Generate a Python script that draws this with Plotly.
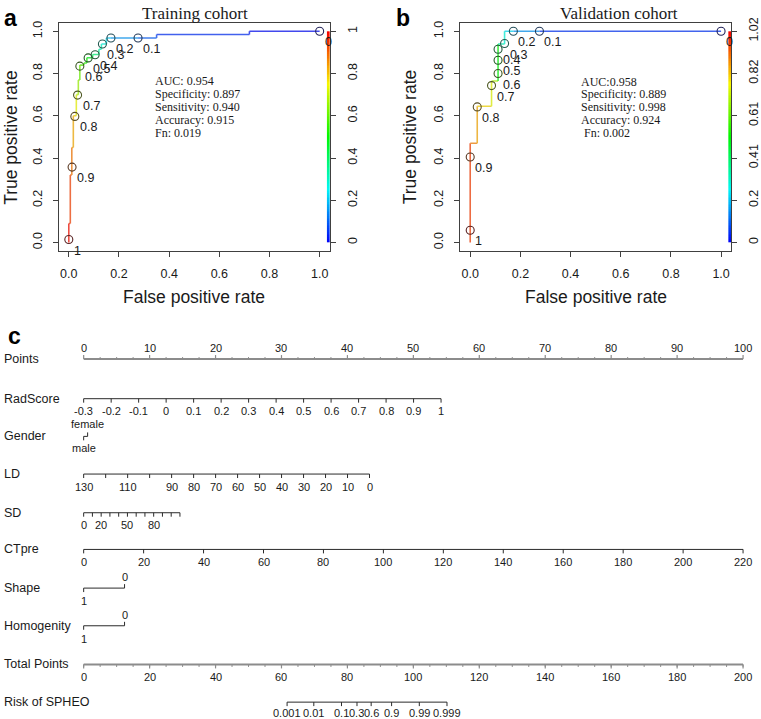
import colorsys
import numpy as np
import plotly.graph_objects as go

W, H = 761, 719

# ---------------- Panel a: training cohort ROC ----------------
train_fpr = [0.000, 0.000, 0.006, 0.006, 0.012, 0.012, 0.018, 0.018, 0.030, 0.030,
             0.038, 0.038, 0.044, 0.044, 0.060, 0.060, 0.072, 0.072, 0.095, 0.095,
             0.120, 0.120, 0.130, 0.130, 0.150, 0.150, 0.168, 0.276, 0.350, 0.350,
             0.720, 0.720, 1.000]
train_tpr = [0.000, 0.090, 0.090, 0.320, 0.320, 0.450, 0.450, 0.600, 0.600, 0.700,
             0.700, 0.770, 0.770, 0.840, 0.840, 0.850, 0.850, 0.875, 0.875, 0.890,
             0.890, 0.915, 0.915, 0.940, 0.940, 0.968, 0.968, 0.968, 0.968, 0.985,
             0.985, 1.000, 1.000]
train_cut = [1.00, 0.97, 0.96, 0.91, 0.90, 0.86, 0.85, 0.80, 0.78, 0.70,
             0.68, 0.64, 0.62, 0.60, 0.57, 0.55, 0.53, 0.50, 0.45, 0.40,
             0.36, 0.33, 0.31, 0.30, 0.25, 0.22, 0.20, 0.10, 0.08, 0.06,
             0.03, 0.02, 0.00]
train_pt_fpr = [0.000, 0.013, 0.024, 0.035, 0.044, 0.077, 0.105, 0.134, 0.168, 0.276, 1.000]
train_pt_tpr = [0.014, 0.357, 0.597, 0.698, 0.835, 0.874, 0.889, 0.940, 0.968, 0.968, 1.000]
train_pt_lab = ["1", "0.9", "0.8", "0.7", "0.6", "0.5", "0.4", "0.3", "0.2", "0.1", "0"]
train_stats = ["AUC: 0.954", "Specificity: 0.897", "Sensitivity: 0.940",
               "Accuracy: 0.915", "Fn: 0.019"]
train_bar_labels = ["0", "0.2", "0.4", "0.6", "0.8", "1"]

# ---------------- Panel b: validation cohort ROC ----------------
valid_fpr = [0.000, 0.000, 0.028, 0.028, 0.085, 0.085, 0.111, 0.111, 0.137, 0.137, 0.172, 0.276, 1.000]
valid_tpr = [0.000, 0.470, 0.470, 0.645, 0.645, 0.765, 0.765, 0.940, 0.940, 1.000, 1.000, 1.000, 1.000]
valid_cut = [1.00, 0.88, 0.86, 0.80, 0.76, 0.70, 0.66, 0.33, 0.31, 0.25, 0.20, 0.10, 0.00]
valid_pt_fpr = [0.000, 0.000, 0.028, 0.085, 0.111, 0.111, 0.111, 0.137, 0.172, 0.276, 1.000]
valid_pt_tpr = [0.058, 0.405, 0.642, 0.743, 0.800, 0.863, 0.915, 0.942, 1.000, 1.000, 1.000]
valid_pt_lab = ["1", "0.9", "0.8", "0.7", "0.6", "0.5", "0.4", "0.3", "0.2", "0.1", "0"]
valid_stats = ["AUC:0.958", "Specificity: 0.889", "Sensitivity: 0.998",
               "Accuracy: 0.924", " Fn: 0.002"]
valid_bar_labels = ["0", "0.2", "0.41", "0.61", "0.82", "1.02"]

axis_ticks = [0, 0.2, 0.4, 0.6, 0.8, 1.0]
axis_ticktext = ["0.0", "0.2", "0.4", "0.6", "0.8", "1.0"]

# ---------------- Panel c: nomogram ----------------
points_major = [0, 10, 20, 30, 40, 50, 60, 70, 80, 90, 100]
points_minor = [2.5, 5, 7.5, 12.5, 15, 17.5, 22.5, 25, 27.5, 32.5, 35, 37.5, 42.5, 45, 47.5,
                52.5, 55, 57.5, 62.5, 65, 67.5, 72.5, 75, 77.5, 82.5, 85, 87.5, 92.5, 95, 97.5]

radscore_vals = [-0.3, -0.2, -0.1, 0, 0.1, 0.2, 0.3, 0.4, 0.5, 0.6, 0.7, 0.8, 0.9, 1.0]
radscore_text = ["-0.3", "-0.2", "-0.1", "0", "0.1", "0.2", "0.3", "0.4", "0.5", "0.6",
                 "0.7", "0.8", "0.9", "1"]
radscore_pts_range = [0.0, 54.2]          # points at -0.3 and at 1

gender_levels = ["male", "female"]
gender_pts = [0.0, 0.6]

ld_vals = [130, 120, 110, 100, 90, 80, 70, 60, 50, 40, 30, 20, 10, 0]
ld_labelled = [130, 110, 90, 80, 70, 60, 50, 40, 30, 20, 10, 0]
ld_pts_range = [0.0, 43.35]               # points at 130 and at 0

sd_vals = [0, 10, 20, 30, 40, 50, 60, 70, 80, 90, 100, 110]
sd_labelled = [0, 20, 50, 80]
sd_pts_range = [0.0, 14.6]                # points at 0 and at 110

ct_vals = [0, 20, 40, 60, 80, 100, 120, 140, 160, 180, 200, 220]
ct_pts_range = [0.0, 100.0]               # points at 0 and at 220

shape_levels = ["1", "0"]
shape_pts = [0.0, 6.2]
homog_levels = ["1", "0"]
homog_pts = [0.0, 6.2]

total_major = [0, 20, 40, 60, 80, 100, 120, 140, 160, 180, 200]
total_minor_step = 5

risk_text = ["0.001", "0.01", "0.1", "0.3", "0.6", "0.9", "0.99", "0.999"]
risk_total = [61.7, 69.8, 78.2, 82.9, 87.2, 93.4, 101.8, 110.2]

row_names = ["Points", "RadScore", "Gender", "LD", "SD", "CTpre", "Shape",
             "Homogenity", "Total Points", "Risk of SPHEO"]

# ---------------- helpers ----------------
SANS = "Liberation Sans, Arial, sans-serif"
SERIF = "Liberation Serif, Times New Roman, serif"
TXT = "#1a1a1a"


def px(x):
    return x / W


def py(y):
    return 1 - y / H


def hsv_col(c, s=0.72, v=0.93):
    r, g, b = colorsys.hsv_to_rgb((1 - c) * 2 / 3, s, v)
    return f"rgb({int(r*255)},{int(g*255)},{int(b*255)})"


def dark_col(c):
    return hsv_col(c, s=0.6, v=0.35)


fig = go.Figure()
annotations = []

rainbow_scale = [[i / 12, hsv_col(i / 12, 1.0, 0.97)] for i in range(13)]


def add_roc(xa, ya, fpr, tpr, cut, pfpr, ptpr, plab):
    # colour bar strip
    edges = np.linspace(0, 1, 121)
    centers = (edges[:-1] + edges[1:]) / 2
    fig.add_trace(go.Heatmap(x=[1.029, 1.04], y=edges, z=[[v] for v in centers],
                             colorscale=rainbow_scale, zmin=0, zmax=1, showscale=False,
                             hoverinfo="skip", xaxis=xa, yaxis=ya))
    for i in range(len(fpr) - 1):
        c = (cut[i] + cut[i + 1]) / 2
        fig.add_trace(go.Scatter(x=[fpr[i], fpr[i + 1]], y=[tpr[i], tpr[i + 1]], mode="lines",
                                 line=dict(color=hsv_col(c), width=1.6),
                                 xaxis=xa, yaxis=ya, showlegend=False, hoverinfo="skip"))
    cols = [dark_col(float(l)) for l in plab]
    fig.add_trace(go.Scatter(x=pfpr, y=ptpr, mode="markers",
                             marker=dict(symbol="circle-open", size=8, color=cols,
                                         line=dict(width=1.1)),
                             xaxis=xa, yaxis=ya, showlegend=False, hoverinfo="skip"))
    xr = "x" if xa == "x" else "x" + xa[1:]
    yr = "y" if ya == "y" else "y" + ya[1:]
    for x, y, t in zip(pfpr, ptpr, plab):
        annotations.append(dict(x=x, y=y, xref=xr, yref=yr, text=t, showarrow=False,
                                xanchor="left", yanchor="middle", xshift=3, yshift=-11,
                                font=dict(family=SANS, size=12.5, color=TXT)))


add_roc("x", "y", train_fpr, train_tpr, train_cut, train_pt_fpr, train_pt_tpr, train_pt_lab)
add_roc("x2", "y3", valid_fpr, valid_tpr, valid_cut, valid_pt_fpr, valid_pt_tpr, valid_pt_lab)

# ---------------- nomogram drawing ----------------
XA, YA = "x3", "y5"
row_y = {"Points": 356, "RadScore": 396, "Gender": 434, "LD": 472, "SD": 511,
         "CTpre": 548, "Shape": 587, "Homogenity": 625, "Total Points": 664,
         "Risk of SPHEO": 702}


def lin(v, v0, v1, p0, p1):
    return p0 + (v - v0) / (v1 - v0) * (p1 - p0)


def nom_line(x0, x1, y, color="#2a2a2a", width=1.0):
    fig.add_trace(go.Scatter(x=[x0, x1], y=[y, y], mode="lines",
                             line=dict(color=color, width=width),
                             xaxis=XA, yaxis=YA, showlegend=False, hoverinfo="skip"))


def nom_ticks(xs, y, dy, color="#2a2a2a", width=1.0):
    tx, ty = [], []
    for x in xs:
        tx += [x, x, None]
        ty += [y, y + dy, None]
    fig.add_trace(go.Scatter(x=tx, y=ty, mode="lines", line=dict(color=color, width=width),
                             xaxis=XA, yaxis=YA, showlegend=False, hoverinfo="skip"))


def nom_label(x, y, t, size=11):
    annotations.append(dict(x=x, y=y, xref="x3", yref="y5", text=t, showarrow=False,
                            xanchor="center", yanchor="middle",
                            font=dict(family=SANS, size=size, color=TXT)))


GRAY = "#8c8c8c"
# Points
y0 = row_y["Points"]
nom_line(points_major[0], points_major[-1], y0, GRAY, 2)
nom_ticks(points_major, y0, -4, GRAY, 1.2)
nom_ticks(points_minor, y0, -2, GRAY, 1)
for v in points_major:
    nom_label(v, y0 - 11, str(v))

# RadScore
y0 = row_y["RadScore"]
rs_pts = [lin(v, radscore_vals[0], radscore_vals[-1], *radscore_pts_range) for v in radscore_vals]
nom_line(rs_pts[0], rs_pts[-1], y0)
nom_ticks(rs_pts, y0, 4)
for p, t in zip(rs_pts, radscore_text):
    nom_label(p, y0 + 12, t)

# Gender
y0 = row_y["Gender"]
nom_line(gender_pts[0], gender_pts[1], y0)
nom_ticks([gender_pts[0]], y0, 4)
nom_ticks([gender_pts[1]], y0, -4)
nom_label(gender_pts[0], y0 + 12, gender_levels[0])
nom_label(gender_pts[1], y0 - 12, gender_levels[1])

# LD
y0 = row_y["LD"]
ld_pts = [lin(v, ld_vals[0], ld_vals[-1], *ld_pts_range) for v in ld_vals]
nom_line(ld_pts[0], ld_pts[-1], y0)
nom_ticks(ld_pts, y0, 4)
for v in ld_labelled:
    nom_label(lin(v, ld_vals[0], ld_vals[-1], *ld_pts_range), y0 + 13, str(v))

# SD
y0 = row_y["SD"]
sd_pts = [lin(v, sd_vals[0], sd_vals[-1], *sd_pts_range) for v in sd_vals]
nom_line(sd_pts[0], sd_pts[-1], y0)
nom_ticks(sd_pts, y0, 4)
for v in sd_labelled:
    nom_label(lin(v, sd_vals[0], sd_vals[-1], *sd_pts_range), y0 + 12, str(v))

# CTpre
y0 = row_y["CTpre"]
ct_pts = [lin(v, ct_vals[0], ct_vals[-1], *ct_pts_range) for v in ct_vals]
nom_line(ct_pts[0], ct_pts[-1], y0)
nom_ticks(ct_pts, y0, 4)
for p, v in zip(ct_pts, ct_vals):
    nom_label(p, y0 + 13, str(v))

# Shape / Homogenity
for name, levels, pts in [("Shape", shape_levels, shape_pts), ("Homogenity", homog_levels, homog_pts)]:
    y0 = row_y[name]
    nom_line(pts[0], pts[1], y0)
    nom_ticks([pts[0]], y0, 4)
    nom_ticks([pts[1]], y0, -4)
    nom_label(pts[0], y0 + 13, levels[0])
    nom_label(pts[1], y0 - 11, levels[1])

# Total points (0-200 mapped onto the 0-100 points scale)
y0 = row_y["Total Points"]
tot_scale = 100.0 / 200.0
nom_line(total_major[0] * tot_scale, total_major[-1] * tot_scale, y0, GRAY, 2)
minor_vals = [v for v in range(total_major[0], total_major[-1] + 1, total_minor_step)]
nom_ticks([v * tot_scale for v in minor_vals], y0, 2.5, GRAY, 1)
nom_ticks([v * tot_scale for v in total_major], y0, 4, GRAY, 1.2)
for v in total_major:
    nom_label(v * tot_scale, y0 + 13, str(v))

# Risk
y0 = row_y["Risk of SPHEO"]
rk = [v * tot_scale for v in risk_total]
nom_line(rk[0], rk[-1], y0)
nom_ticks(rk, y0, 4)
for p, t in zip(rk, risk_text):
    nom_label(p, y0 + 11, t)

# row names
for name in row_names:
    annotations.append(dict(x=px(2), y=py(row_y[name]), xref="paper", yref="paper", text=name,
                            showarrow=False, xanchor="left", yanchor="middle",
                            font=dict(family=SANS, size=12.5, color=TXT)))

# ---------------- texts of the ROC panels ----------------
for t, x, y in [("a", 11, 12), ("b", 405, 12), ("c", 15, 333)]:
    annotations.append(dict(x=px(x), y=py(y), xref="paper", yref="paper", text=f"<b>{t}</b>",
                            showarrow=False, xanchor="center", yanchor="middle",
                            font=dict(family=SANS, size=23, color="#000")))
for t, x in [("Training cohort", 196), ("Validation cohort", 621)]:
    annotations.append(dict(x=px(x), y=py(8), xref="paper", yref="paper", text=t,
                            showarrow=False, xanchor="center", yanchor="middle",
                            font=dict(family=SERIF, size=17, color=TXT)))
for x in [195, 598]:
    annotations.append(dict(x=px(x), y=py(293), xref="paper", yref="paper",
                            text="False positive rate", showarrow=False, xanchor="center",
                            yanchor="middle", font=dict(family=SANS, size=17.5, color=TXT)))
for x in [11, 412]:
    annotations.append(dict(x=px(x), y=py(132), xref="paper", yref="paper",
                            text="True positive rate", showarrow=False, textangle=-90,
                            xanchor="center", yanchor="middle",
                            font=dict(family=SANS, size=17.5, color=TXT)))
for lines, x0, ys in [(train_stats, 154, [76, 89, 102, 115, 128]),
                      (valid_stats, 581, [77, 89, 102, 115, 128])]:
    for t, y in zip(lines, ys):
        annotations.append(dict(x=px(x0), y=py(y), xref="paper", yref="paper", text=t,
                                showarrow=False, xanchor="left", yanchor="middle",
                                font=dict(family=SERIF, size=12, color=TXT)))

# ---------------- layout ----------------
box_top, box_bot = 17, 247
ydom = [py(box_bot), py(box_top)]
common = dict(range=[-0.04, 1.04], showgrid=False, zeroline=False, showline=True, mirror=True,
              linecolor="#404040", linewidth=1, ticks="outside", ticklen=5, tickcolor="#404040",
              tickvals=axis_ticks, ticktext=axis_ticktext,
              tickfont=dict(family=SANS, size=12.5, color=TXT))
right_common = dict(range=[-0.04, 1.04], showgrid=False, zeroline=False, showline=False,
                    ticks="outside", ticklen=5, tickcolor="#404040", tickvals=axis_ticks,
                    side="right", tickangle=-90, ticklabelstandoff=6,
                    tickfont=dict(family=SANS, size=12.5, color=TXT))

fig.update_layout(
    width=W, height=H, margin=dict(l=0, r=0, t=0, b=0),
    paper_bgcolor="white", plot_bgcolor="rgba(0,0,0,0)", showlegend=False,
    xaxis=dict(domain=[px(59), px(331)], anchor="y", ticklabelstandoff=6, **common),
    yaxis=dict(domain=ydom, anchor="x", tickangle=-90, ticklabelstandoff=6, **common),
    yaxis2=dict(overlaying="y", anchor="x", ticktext=train_bar_labels, **right_common),
    xaxis2=dict(domain=[px(462), px(734)], anchor="y3", ticklabelstandoff=6, **common),
    yaxis3=dict(domain=ydom, anchor="x2", tickangle=-90, ticklabelstandoff=6, **common),
    yaxis4=dict(overlaying="y3", anchor="x2", ticktext=valid_bar_labels, **right_common),
    xaxis3=dict(domain=[0, 1], range=[-84 / 6.62, (W - 84) / 6.62], visible=False, anchor="y5"),
    yaxis5=dict(domain=[0, 1], range=[H, 0], visible=False, anchor="x3"),
    annotations=annotations,
)

# dummy traces to activate the right-hand axes
fig.add_trace(go.Scatter(x=[None], y=[None], xaxis="x", yaxis="y2", showlegend=False))
fig.add_trace(go.Scatter(x=[None], y=[None], xaxis="x2", yaxis="y4", showlegend=False))

fig.write_html("out.html", config={"displayModeBar": False, "staticPlot": True},
               post_script="document.body.style.margin='0';document.body.style.padding='0';")
